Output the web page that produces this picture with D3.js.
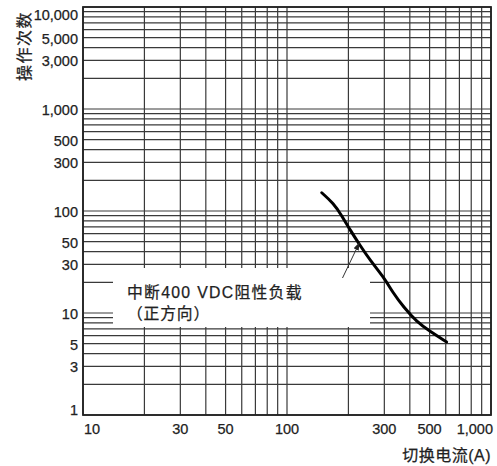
<!DOCTYPE html>
<html><head><meta charset="utf-8">
<script src="https://cdn.jsdelivr.net/npm/d3@7"></script>
<style>
html,body{margin:0;padding:0;background:#fff;}
text{font-family:"Liberation Sans",Arial,"Noto Sans CJK SC",sans-serif;fill:#222;stroke:#222;stroke-width:0.25px;}
</style></head>
<body>
<svg id="c" width="497" height="466"></svg>
<script>
// Data
const current = [148, 169, 185, 204, 228, 255, 297, 332, 372, 432, 502, 606];
const operations = [151, 119, 91, 65, 46, 33, 22.7, 15.6, 11.5, 8.2, 6.6, 5.2];
const xTicks = [10, 30, 50, 100, 300, 500, 1000];
const xTickLabels = ["10", "30", "50", "100", "300", "500", "1,000"];
const yTicks = [1, 3, 5, 10, 30, 50, 100, 300, 500, 1000, 3000, 5000, 10000];
const yTickLabels = ["1", "3", "5", "10", "30", "50", "100", "300", "500", "1,000", "3,000", "5,000", "10,000"];
const annotationLines = ["中断400 VDC阻性负载", "（正方向）"];
const xTitle = "切换电流(A)";
const yTitle = "操作次数";

const L = 83, R = 491, T = 7, B = 415;
const svg = d3.select("#c");
const x = d3.scaleLog().domain([10, 1000]).range([L, R]);
const y = d3.scaleLog().domain([1, 10000]).range([B, T]);

// full grid: every 1..9 of each decade
const gridX = [], gridY = [];
for (let d = 10; d < 1000; d *= 10) for (let k = 1; k < 10; k++) gridX.push(d * k);
gridX.push(1000);
for (let d = 1; d < 10000; d *= 10) for (let k = 1; k < 10; k++) gridY.push(d * k);
gridY.push(10000);

const g = svg.append("g");
g.selectAll("line.gx").data(gridX).join("line")
  .attr("x1", d => x(d)).attr("x2", d => x(d)).attr("y1", T).attr("y2", B)
  .attr("stroke", "#3a3a3a").attr("stroke-width", 1.2);
g.selectAll("line.gy").data(gridY).join("line")
  .attr("y1", d => y(d)).attr("y2", d => y(d)).attr("x1", L).attr("x2", R)
  .attr("stroke", "#3a3a3a").attr("stroke-width", 1.2);

// white annotation box
svg.append("rect").attr("x", 113).attr("y", 268).attr("width", 257).attr("height", 59).attr("fill", "#fff");

// frame
svg.append("rect").attr("x", L).attr("y", T).attr("width", R - L).attr("height", B - T)
  .attr("fill", "none").attr("stroke", "#222").attr("stroke-width", 1.8);

// curve
const line = d3.line().x(d => x(d[0])).y(d => y(d[1])).curve(d3.curveBasis);
svg.append("path").datum(current.map((c, i) => [c, operations[i]]))
  .attr("d", line).attr("fill", "none").attr("stroke", "#000").attr("stroke-width", 3).attr("stroke-linecap", "round");

// arrow
const tip = [x(226), y(48.5)];
const tail = [342.5, 278];
svg.append("defs").append("marker").attr("id", "ah").attr("viewBox", "0 0 10 10")
  .attr("refX", 9).attr("refY", 5).attr("markerWidth", 8).attr("markerHeight", 8).attr("orient", "auto")
  .append("path").attr("d", "M0,1.5 L10,5 L0,8.5 Z").attr("fill", "#222");
svg.append("line").attr("x1", tail[0]).attr("y1", tail[1]).attr("x2", tip[0]).attr("y2", tip[1])
  .attr("stroke", "#333").attr("stroke-width", 1).attr("marker-end", "url(#ah)");

// annotation text
svg.append("text").attr("x", 127).attr("y", 298).attr("font-size", 15.8)
  .attr("letter-spacing", 1.3).text(annotationLines[0]);
svg.append("text").attr("x", 127).attr("y", 319).attr("font-size", 15.8)
  .attr("letter-spacing", 0.8).text(annotationLines[1]);

// x tick labels
svg.selectAll("text.xt").data(xTicks).join("text")
  .attr("x", (d, i) => i === 0 ? L + 1 : (i === xTicks.length - 1 ? R + 2 : x(d)))
  .attr("y", 434)
  .attr("text-anchor", (d, i) => i === 0 ? "start" : (i === xTicks.length - 1 ? "end" : "middle"))
  .attr("font-size", 14.5).text((d, i) => xTickLabels[i]);

// y tick labels
svg.selectAll("text.yt").data(yTicks).join("text")
  .attr("x", 78)
  .attr("y", (d, i) => i === 0 ? B : (i === yTicks.length - 1 ? 20 : y(d) + 6))
  .attr("text-anchor", "end").attr("font-size", 14.5).text((d, i) => yTickLabels[i]);

// axis titles
svg.append("text").attr("x", 491).attr("y", 461).attr("text-anchor", "end")
  .attr("font-size", 16).attr("letter-spacing", 0.5).text(xTitle);
svg.append("text").attr("transform", "translate(30,11) rotate(-90)")
  .attr("text-anchor", "end").attr("font-size", 16).attr("letter-spacing", 1.5).text(yTitle);
</script>
</body></html>
